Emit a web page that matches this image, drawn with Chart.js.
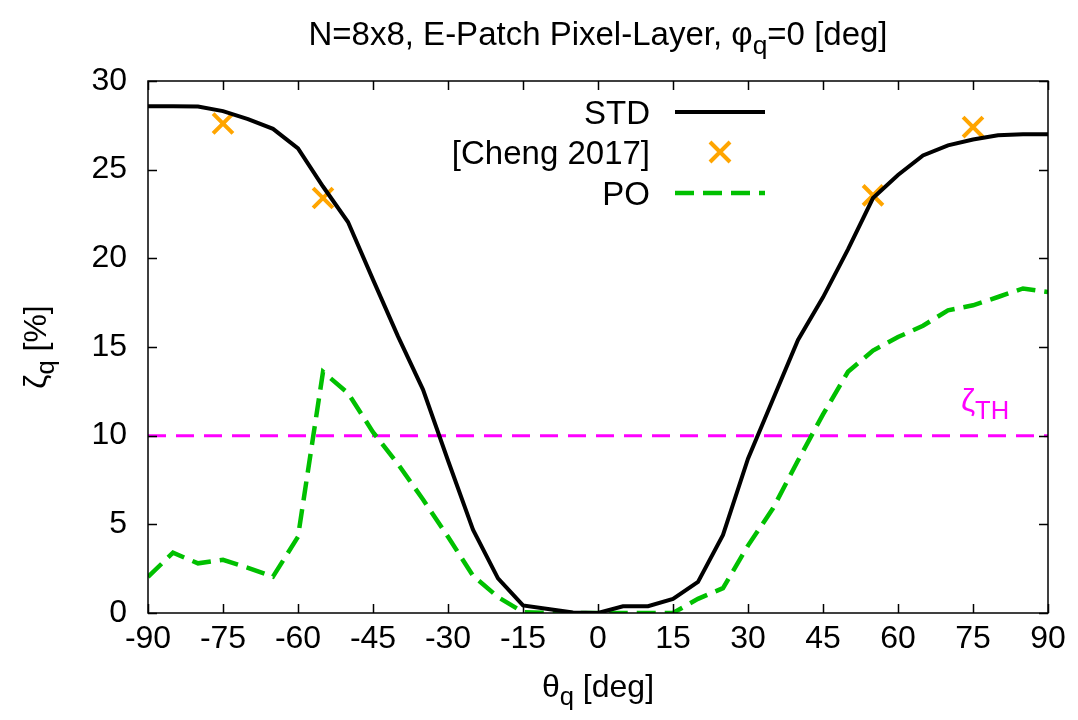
<!DOCTYPE html>
<html>
<head>
<meta charset="utf-8">
<script src="https://cdn.jsdelivr.net/npm/chart.js@4/dist/chart.umd.min.js"></script>
<style>
  html, body { margin: 0; padding: 0; background: #fff; }
  #wrap { width: 1078px; height: 720px; }
</style>
</head>
<body>
<div id="wrap"><canvas id="chart" width="1078" height="720"></canvas></div>
<script>
// theta_q sample angles [deg]
const theta = [-90, -85, -80, -75, -70, -65, -60, -55, -50, -45, -40, -35, -30, -25, -20, -15, -10, -5, 0,
  5, 10, 15, 20, 25, 30, 35, 40, 45, 50, 55, 60, 65, 70, 75, 80, 85, 90];

// zeta_q [%] for the standard design
const stdValues = [28.58, 28.58, 28.56, 28.3, 27.85, 27.3, 26.2, 24.05, 22.05, 18.8, 15.6, 12.6, 8.6, 4.7, 1.95, 0.43, 0.22, 0.03, 0,
  0.38, 0.38, 0.8, 1.75, 4.4, 8.7, 12.05, 15.4, 17.8, 20.5, 23.4, 24.7, 25.8, 26.37, 26.7, 26.94, 27.0, 27.0];

// zeta_q [%] for the PO design
const poValues = [2.03, 3.4, 2.8, 3.0, 2.55, 2.05, 4.3, 13.6, 12.4, 10.2, 8.4, 6.4, 4.3, 2.1, 0.9, 0.05, 0, 0, 0,
  0, 0, 0, 0.8, 1.4, 3.8, 5.9, 8.6, 11.2, 13.6, 14.8, 15.56, 16.2, 17.07, 17.35, 17.82, 18.3, 18.1];

// reference values from [Cheng 2017]
const chengTheta = [-75, -55, 55, 75];
const chengValues = [27.6, 23.4, 23.55, 27.4];

// threshold zeta_TH
const thresholdTheta = [-90, 90];
const thresholdValue = 10;

const xTicks = [-90, -75, -60, -45, -30, -15, 0, 15, 30, 45, 60, 75, 90];
const yTicks = [0, 5, 10, 15, 20, 25, 30];

const FONT = '"Liberation Sans", Arial, Helvetica, sans-serif';
const BLACK = '#000000';
const ORANGE = '#ffa500';
const GREEN = '#00c000';
const MAGENTA = '#ff00ff';

const toXY = (xs, ys) => xs.map((x, i) => ({ x: x, y: ys[i] }));

// text with optional subscript parts: [{t:'..'}, {t:'q', sub:true}]
function richWidth(ctx, parts, size) {
  let w = 0;
  parts.forEach(p => {
    ctx.font = (p.sub ? size * 0.8 : size) + 'px ' + FONT;
    w += ctx.measureText(p.t).width;
  });
  return w;
}

function drawRich(ctx, parts, x, y, size, align) {
  const w = richWidth(ctx, parts, size);
  let cx = align === 'center' ? x - w / 2 : (align === 'right' ? x - w : x);
  ctx.textAlign = 'left';
  ctx.textBaseline = 'alphabetic';
  parts.forEach(p => {
    const s = p.sub ? size * 0.8 : size;
    ctx.font = s + 'px ' + FONT;
    ctx.fillText(p.t, cx, p.sub ? y + size * 0.26 : y);
    cx += ctx.measureText(p.t).width;
  });
}

const frame = {
  id: 'frame',
  afterDraw(chart) {
    const ctx = chart.ctx;
    const a = chart.chartArea;
    const xs = chart.scales.x;
    const ys = chart.scales.y;
    ctx.save();
    ctx.strokeStyle = BLACK;
    ctx.lineWidth = 1.5;

    // inward ticks on all four sides
    ctx.beginPath();
    xTicks.forEach(v => {
      const px = Math.round(xs.getPixelForValue(v)) + 0.5;
      ctx.moveTo(px, a.bottom); ctx.lineTo(px, a.bottom - 9);
      ctx.moveTo(px, a.top); ctx.lineTo(px, a.top + 9);
    });
    yTicks.forEach(v => {
      const py = Math.round(ys.getPixelForValue(v)) + 0.5;
      ctx.moveTo(a.left, py); ctx.lineTo(a.left + 9, py);
      ctx.moveTo(a.right, py); ctx.lineTo(a.right - 9, py);
    });
    ctx.stroke();
    ctx.strokeRect(a.left, a.top, a.right - a.left, a.bottom - a.top);

    ctx.fillStyle = BLACK;
    // title
    drawRich(ctx, [{ t: 'N=8x8, E-Patch Pixel-Layer, φ' }, { t: 'q', sub: true }, { t: '=0 [deg]' }],
      (a.left + a.right) / 2, 45, 33, 'center');
    // x axis title
    drawRich(ctx, [{ t: 'θ' }, { t: 'q', sub: true }, { t: ' [deg]' }],
      (a.left + a.right) / 2, 697, 32, 'center');
    // y axis title
    ctx.save();
    ctx.translate(46, (a.top + a.bottom) / 2);
    ctx.rotate(-Math.PI / 2);
    drawRich(ctx, [{ t: 'ζ' }, { t: 'q', sub: true }, { t: ' [%]' }], 0, 0, 32, 'center');
    ctx.restore();

    // legend
    const keyRight = 650;
    const rows = [112, 152, 193];
    ctx.fillStyle = BLACK;
    ['STD', '[Cheng 2017]', 'PO'].forEach((label, i) => {
      drawRich(ctx, [{ t: label }], keyRight, rows[i] + 12, 33, 'right');
    });
    ctx.lineWidth = 4;
    ctx.strokeStyle = BLACK;
    ctx.beginPath(); ctx.moveTo(675, rows[0]); ctx.lineTo(765, rows[0]); ctx.stroke();
    ctx.strokeStyle = ORANGE;
    ctx.beginPath();
    ctx.moveTo(710, rows[1] - 10); ctx.lineTo(730, rows[1] + 10);
    ctx.moveTo(730, rows[1] - 10); ctx.lineTo(710, rows[1] + 10);
    ctx.stroke();
    ctx.strokeStyle = GREEN;
    ctx.lineWidth = 4.5;
    ctx.setLineDash([19, 9]);
    ctx.beginPath(); ctx.moveTo(675, rows[2]); ctx.lineTo(765, rows[2]); ctx.stroke();
    ctx.setLineDash([]);

    // threshold label
    ctx.fillStyle = MAGENTA;
    drawRich(ctx, [{ t: 'ζ' }, { t: 'TH', sub: true }], xs.getPixelForValue(72.6), ys.getPixelForValue(11.4), 32, 'left');
    ctx.restore();
  }
};

new Chart(document.getElementById('chart'), {
  type: 'scatter',
  data: {
    datasets: [
      {
        label: 'STD',
        data: toXY(theta, stdValues),
        showLine: true,
        borderColor: BLACK,
        borderWidth: 4,
        pointRadius: 0,
        tension: 0
      },
      {
        label: '[Cheng 2017]',
        data: toXY(chengTheta, chengValues),
        showLine: false,
        pointStyle: 'crossRot',
        pointRadius: 14,
        pointBorderWidth: 4,
        borderColor: ORANGE,
        backgroundColor: ORANGE
      },
      {
        label: 'PO',
        data: toXY(theta, poValues),
        showLine: true,
        borderColor: GREEN,
        borderWidth: 4.5,
        borderDash: [19, 9],
        pointRadius: 0,
        tension: 0
      },
      {
        label: 'threshold',
        data: toXY(thresholdTheta, thresholdTheta.map(() => thresholdValue)),
        showLine: true,
        borderColor: MAGENTA,
        borderWidth: 3,
        borderDash: [18, 10],
        pointRadius: 0,
        tension: 0
      }
    ]
  },
  options: {
    responsive: false,
    animation: false,
    layout: { padding: { top: 81, right: 30, left: 0, bottom: 0 } },
    plugins: {
      legend: { display: false },
      tooltip: { enabled: false },
      title: { display: false }
    },
    scales: {
      x: {
        type: 'linear',
        min: -90,
        max: 90,
        afterFit: (scale) => { scale.height = 107; },
        afterBuildTicks: (scale) => { scale.ticks = xTicks.map(v => ({ value: v })); },
        grid: { display: false, drawTicks: false },
        border: { display: false },
        ticks: {
          color: BLACK,
          padding: 7,
          maxRotation: 0,
          autoSkip: false,
          font: { family: FONT, size: 32 }
        }
      },
      y: {
        type: 'linear',
        min: 0,
        max: 30,
        afterFit: (scale) => { scale.width = 148; },
        afterBuildTicks: (scale) => { scale.ticks = yTicks.map(v => ({ value: v })); },
        grid: { display: false, drawTicks: false },
        border: { display: false },
        ticks: {
          color: BLACK,
          padding: 21,
          autoSkip: false,
          font: { family: FONT, size: 32 }
        }
      }
    }
  },
  plugins: [frame]
});
</script>
</body>
</html>
